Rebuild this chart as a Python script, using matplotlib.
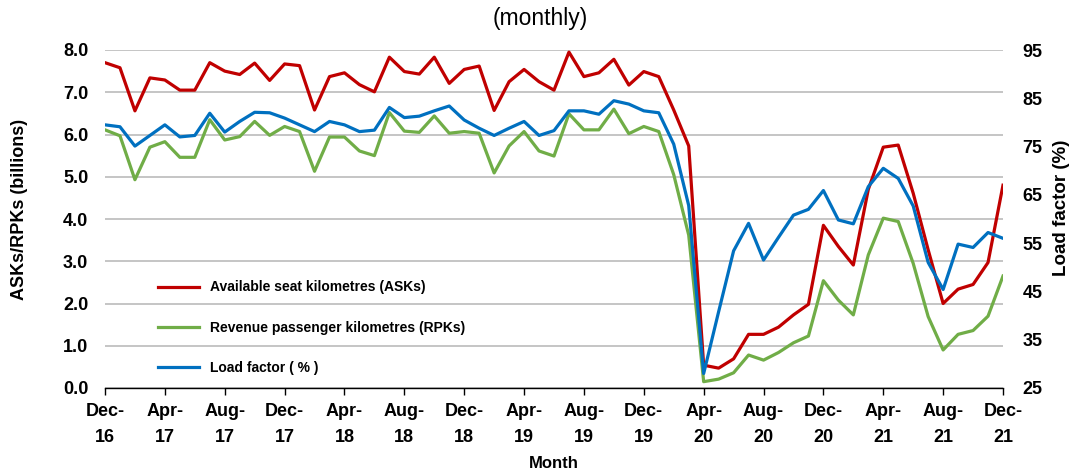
import matplotlib
matplotlib.use("Agg")
import matplotlib.pyplot as plt
import numpy as np

plt.rcParams['font.family'] = ['Liberation Sans', 'DejaVu Sans']

# Monthly data, Dec-16 .. Dec-21 (61 months)
asks = [7.70, 7.58, 6.56, 7.34, 7.29, 7.05, 7.05, 7.70, 7.50, 7.42,
        7.69, 7.28, 7.67, 7.63, 6.58, 7.37, 7.46, 7.18, 7.01, 7.83,
        7.49, 7.43, 7.83, 7.21, 7.54, 7.62, 6.57, 7.25, 7.54, 7.25,
        7.05, 7.95, 7.37, 7.46, 7.78, 7.17, 7.49, 7.37, 6.58, 5.73,
        0.54, 0.47, 0.69, 1.27, 1.27, 1.44, 1.73, 1.98, 3.85, 3.35,
        2.91, 4.70, 5.70, 5.75, 4.61, 3.27, 2.00, 2.34, 2.45, 2.97,
        4.80]
rpks = [6.11, 5.97, 4.93, 5.70, 5.83, 5.46, 5.46, 6.35, 5.87, 5.95,
        6.31, 5.98, 6.19, 6.07, 5.13, 5.94, 5.94, 5.61, 5.50, 6.52,
        6.08, 6.05, 6.44, 6.03, 6.07, 6.03, 5.09, 5.73, 6.07, 5.61,
        5.49, 6.49, 6.11, 6.11, 6.60, 6.02, 6.19, 6.07, 5.05, 3.62,
        0.15, 0.21, 0.36, 0.78, 0.66, 0.84, 1.07, 1.23, 2.54, 2.08,
        1.73, 3.15, 4.02, 3.94, 2.95, 1.69, 0.90, 1.27, 1.36, 1.70,
        2.65]
load_factor = [79.5, 79.1, 75.1, 77.3, 79.5, 77.0, 77.3, 81.9, 78.0, 80.2,
               82.1, 82.0, 80.9, 79.5, 78.1, 80.2, 79.5, 78.1, 78.4, 83.1,
               81.0, 81.3, 82.4, 83.4, 80.5, 78.8, 77.3, 78.8, 80.2, 77.3,
               78.3, 82.4, 82.4, 81.7, 84.5, 83.8, 82.4, 82.0, 75.5, 62.8,
               28.0, 40.8, 53.4, 59.1, 51.5, 56.2, 60.8, 62.0, 65.9, 59.8,
               59.0, 66.7, 70.5, 68.4, 62.7, 51.0, 45.4, 54.8, 54.1, 57.2,
               56.0]
tick_labels = ["Dec-\n16", "Apr-\n17", "Aug-\n17", "Dec-\n17", "Apr-\n18", "Aug-\n18",
               "Dec-\n18", "Apr-\n19", "Aug-\n19", "Dec-\n19", "Apr-\n20", "Aug-\n20",
               "Dec-\n20", "Apr-\n21", "Aug-\n21", "Dec-\n21"]
series_labels = ["Available seat kilometres (ASKs)",
                 "Revenue passenger kilometres (RPKs)",
                 "Load factor ( % )"]

x = np.arange(len(asks))
tick_pos = np.arange(0, len(asks), 4)

RED = '#C00000'
GREEN = '#70AD47'
BLUE = '#0070C0'

fig = plt.figure(figsize=(10.75, 4.75), dpi=100)
ax = fig.add_axes([105/1075, 1-388/475, (1003-105)/1075, (388-50)/475])
ax2 = ax.twinx()

l1, = ax.plot(x, asks, color=RED, lw=2.3, label=series_labels[0], zorder=3)
l2, = ax.plot(x, rpks, color=GREEN, lw=2.3, label=series_labels[1], zorder=3)
l3, = ax2.plot(x, load_factor, color=BLUE, lw=2.3, label=series_labels[2], zorder=3)

ax.set_xlim(0, len(asks) - 1)
ax.set_ylim(0, 8)
ax.set_yticks(np.arange(0, 8.01, 1.0))
ax.set_yticklabels([f"{v:.1f}" for v in np.arange(0, 8.01, 1.0)])
ax2.set_ylim(25, 95)
ax2.set_yticks(np.arange(25, 96, 10))

ax.grid(axis='y', color='#c0c0c0', lw=1.3)
ax.set_axisbelow(True)

for a in (ax, ax2):
    for s in ('top', 'left', 'right'):
        a.spines[s].set_visible(False)
ax2.spines['bottom'].set_visible(False)
ax.spines['bottom'].set_color('black')
ax.spines['bottom'].set_linewidth(1.0)

ax.set_xticks(tick_pos)
ax.set_xticklabels(tick_labels, fontsize=13, fontweight='bold', linespacing=1.65)
ax.tick_params(axis='x', direction='out', length=5, width=1, pad=6)
ax.tick_params(axis='y', length=0, labelsize=13, pad=12)
ax2.tick_params(axis='y', length=0, labelsize=13, pad=14)
for lab in ax.get_yticklabels() + ax2.get_yticklabels():
    lab.set_fontweight('bold')

fig.text(20/1075, 1-209/475, "ASKs/RPKs (billions)", rotation=90, ha='center',
         va='center', fontsize=13, fontweight='bold')
fig.text(1062/1075, 1-208/475, "Load factor (%)", rotation=90, ha='center',
         va='center', fontsize=13.5, fontweight='bold')
fig.text(554/1075, 1-463/475, "Month", ha='center', va='center',
         fontsize=12, fontweight='bold')
fig.text(540/1075, 1-19/475, "(monthly)", ha='center', va='center', fontsize=16.5)

leg = ax.legend(handles=[l1, l2, l3], loc='upper left',
                bbox_to_anchor=(145/1075, 1-268/475), bbox_transform=fig.transFigure,
                frameon=False, prop={'weight': 'bold', 'size': 10},
                handlelength=3.0, handletextpad=0.75, labelspacing=1.9)

fig.savefig("out.png", dpi=100)
